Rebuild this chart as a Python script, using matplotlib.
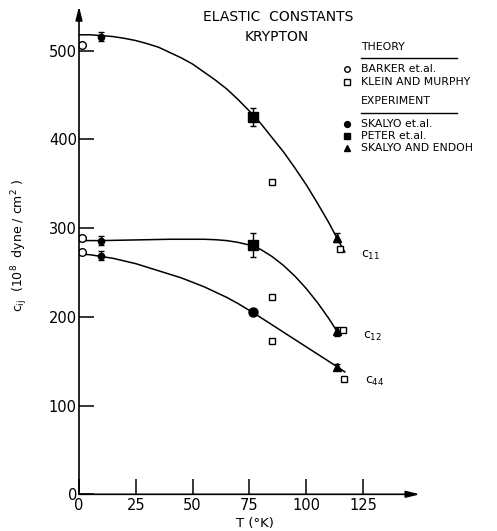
import matplotlib
matplotlib.use('Agg')
import matplotlib.pyplot as plt
from matplotlib.lines import Line2D

# Elastic constants of krypton (10^8 dyne/cm^2) vs temperature (K)

# Theory
barker_T = [1.5, 1.5, 1.5]
barker_c = [507, 289, 273]
klein_T = [85, 85, 85, 115, 116, 116.5]
klein_c = [352, 222, 173, 277, 185, 130]

# Experiment
skalyo_T = [9.5, 9.5, 9.5, 76.5]
skalyo_c = [516, 286, 269, 205]
skalyo_err = [5, 5, 5, 0]
peter_T = [76.5, 76.5]
peter_c = [425, 281]
peter_err = [10, 13]
endoh_T = [113.5, 113.5, 113.5]
endoh_c = [289, 184, 144]
endoh_err = [5, 5, 3]

# hand-drawn guide curves
c11_T = [0, 5, 10, 15, 20, 25, 30, 35, 40, 45, 50, 55, 60, 65, 70, 75, 80, 85, 90,
         95, 100, 105, 110, 113.5, 117]
c11_v = [518, 518, 517, 516, 514, 511.5, 508, 504, 498, 492, 485, 476, 467, 457, 445,
         432, 418, 402, 386, 368, 349, 328, 306, 289, 273]
c12_T = [0, 10, 20, 30, 40, 50, 55, 60, 65, 70, 75, 80, 85, 90, 95, 100, 105, 110, 113.5]
c12_v = [286, 286, 286.5, 287, 287.5, 287.5, 287.5, 287, 286, 284, 281, 276, 268, 258,
         246, 232, 216, 198, 184]
c44_T = [0, 5, 10, 15, 20, 25, 30, 35, 40, 45, 50, 55, 60, 65, 70, 76.5, 85, 95, 105,
         113.5, 117]
c44_v = [271, 270, 268, 266, 263, 260, 256, 252, 248, 244, 239, 234, 228, 222, 215,
         205, 191, 174.5, 158, 144, 138]

x_ticks = [0, 25, 50, 75, 100, 125]
y_ticks = [0, 100, 200, 300, 400, 500]

W, H = 497, 531
fig = plt.figure(figsize=(W / 100, H / 100), dpi=100)
ax = fig.add_axes([79 / W, 1 - 494.3 / H, 340.8 / W, 487.9 / H])


def px(x, y):
    return (x / W, 1 - y / H)


ax.set_xlim(0, 150)
ax.set_ylim(0, 550)

lw = 1.1
for T, v in [(c11_T, c11_v), (c12_T, c12_v), (c44_T, c44_v)]:
    ax.plot(T, v, color='black', lw=lw, zorder=2)

ax.plot(barker_T, barker_c, 'o', mfc='white', mec='black', ms=5.5, mew=1.0, zorder=3)
ax.plot(klein_T, klein_c, 's', mfc='white', mec='black', ms=5, mew=1.0, zorder=3)

ax.errorbar(skalyo_T[:3], skalyo_c[:3], yerr=skalyo_err[:3], fmt='o', color='black',
            ms=4.5, capsize=2.5, elinewidth=1, capthick=1, zorder=4)
ax.plot(skalyo_T[3:], skalyo_c[3:], 'o', color='black', ms=6.5, zorder=4)
ax.errorbar(peter_T, peter_c, yerr=peter_err, fmt='s', color='black',
            ms=6.5, capsize=2.5, elinewidth=1, capthick=1, zorder=4)
ax.errorbar(endoh_T, endoh_c, yerr=endoh_err, fmt='^', color='black',
            ms=6, capsize=2.5, elinewidth=1, capthick=1, zorder=4)

# axes with arrows, no box
for s in ax.spines.values():
    s.set_visible(False)
ax.annotate('', xy=(0, 1), xytext=(0, 0), xycoords='axes fraction',
            arrowprops=dict(arrowstyle='-|>,head_length=0.8,head_width=0.2',
                            color='black', lw=1.2, shrinkA=0, shrinkB=0))
ax.annotate('', xy=(1, 0), xytext=(0, 0), xycoords='axes fraction',
            arrowprops=dict(arrowstyle='-|>,head_length=0.8,head_width=0.2',
                            color='black', lw=1.2, shrinkA=0, shrinkB=0))

ax.set_xticks(x_ticks)
ax.set_yticks(y_ticks)
ax.tick_params(direction='in', length=11, width=1.1, labelsize=10.5)
ax.tick_params(axis='y', pad=1.5)
ax.tick_params(axis='x', pad=3)

fig.text(*px(255, 523), 'T (\u00b0K)', ha='center', va='center', fontsize=9.5)
fig.text(*px(20, 246), r'c$_{\rm ij}$  (10$^{8}$  dyne / cm$^{2}$ )', rotation=90,
         ha='center', va='center', fontsize=9)

# title
fig.text(*px(278, 17), 'ELASTIC  CONSTANTS', ha='center', va='center', fontsize=10)
fig.text(*px(277, 37), 'KRYPTON', ha='center', va='center', fontsize=10)

# curve labels
fig.text(*px(361, 255), r'c$_{11}$', ha='left', va='center', fontsize=9)
fig.text(*px(363, 336), r'c$_{12}$', ha='left', va='center', fontsize=9)
fig.text(*px(365, 381), r'c$_{44}$', ha='left', va='center', fontsize=9)

# legend drawn by hand
tx, mx = 361, 346.5
lfs = 7.8
fig.text(*px(tx, 47), 'THEORY', ha='left', va='center', fontsize=lfs)
fig.add_artist(Line2D([tx / W, 456.7 / W], [1 - 58.3 / H] * 2, color='black', lw=1.0,
                      transform=fig.transFigure))
fig.text(*px(tx, 69), 'BARKER et.al.', ha='left', va='center', fontsize=lfs)
fig.text(*px(tx, 82), 'KLEIN AND MURPHY', ha='left', va='center', fontsize=lfs)
fig.text(*px(tx, 101.5), 'EXPERIMENT', ha='left', va='center', fontsize=lfs)
fig.add_artist(Line2D([tx / W, 456.7 / W], [1 - 112.7 / H] * 2, color='black', lw=1.0,
                      transform=fig.transFigure))
fig.text(*px(tx, 124), 'SKALYO et.al.', ha='left', va='center', fontsize=lfs)
fig.text(*px(tx, 136), 'PETER et.al.', ha='left', va='center', fontsize=lfs)
fig.text(*px(tx, 148), 'SKALYO AND ENDOH', ha='left', va='center', fontsize=lfs)

legend_marks = [(69, 'o', 'white', 4), (82, 's', 'white', 3.8),
                (124, 'o', 'black', 4.2), (136, 's', 'black', 4.2), (148, '^', 'black', 4.5)]
for y, m, fc, ms in legend_marks:
    fig.add_artist(Line2D([mx / W], [1 - y / H], marker=m, mfc=fc, mec='black', ms=ms,
                          mew=1.0, linestyle='none', transform=fig.transFigure))

fig.savefig('out.png', dpi=100)
